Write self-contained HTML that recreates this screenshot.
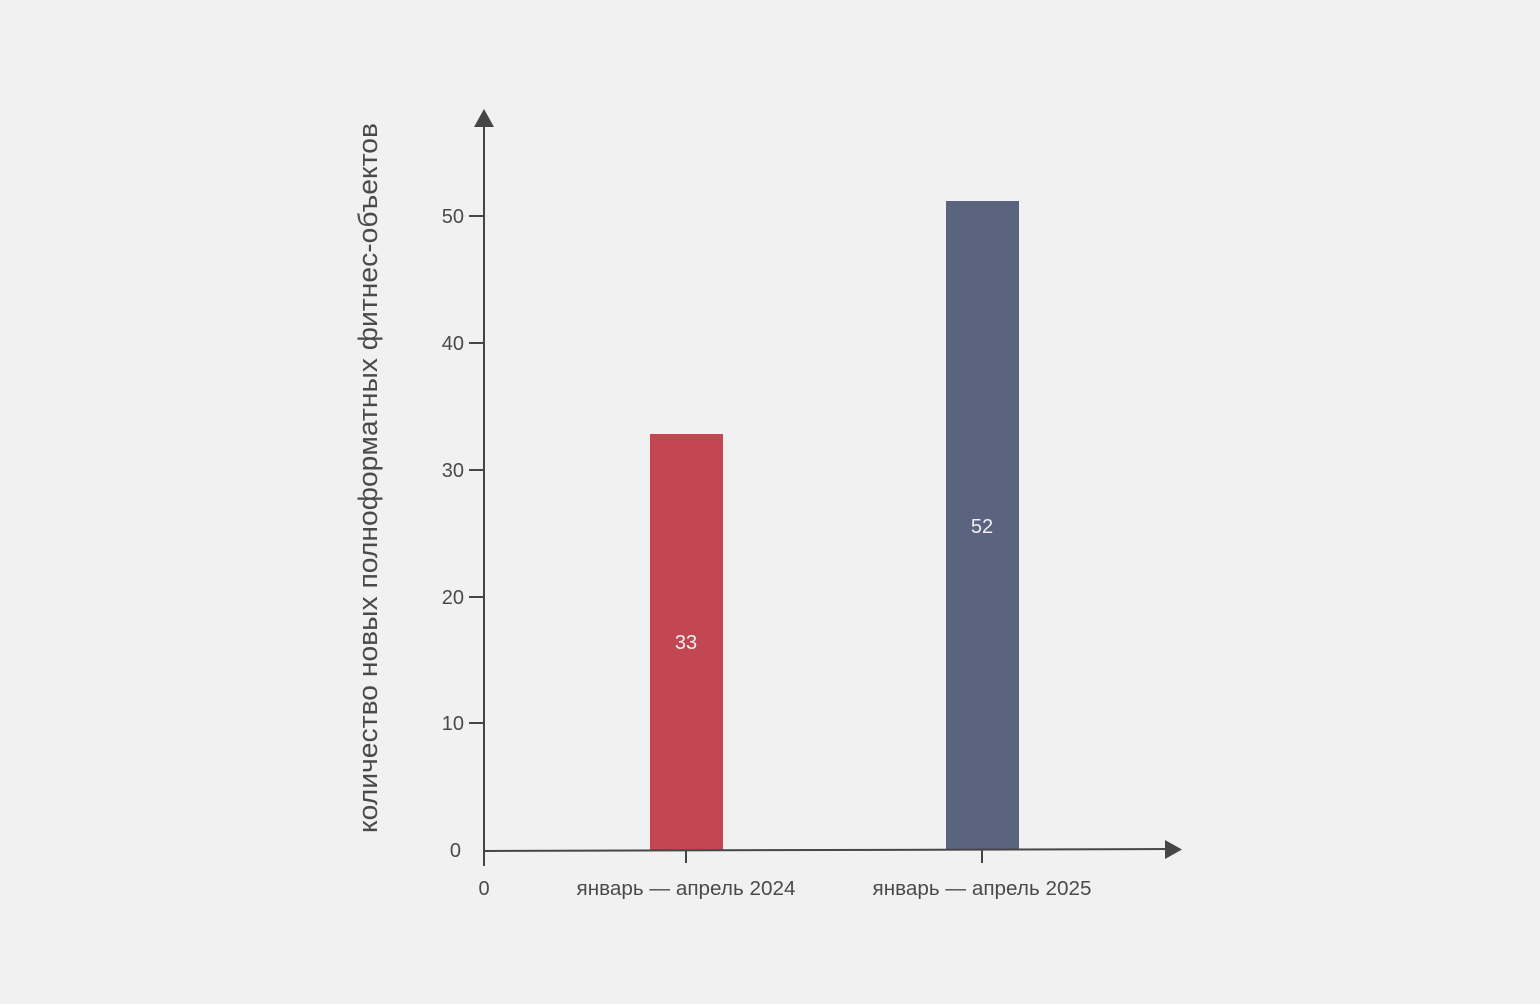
<!DOCTYPE html>
<html><head><meta charset="utf-8"><style>
html,body{margin:0;padding:0;background:#f1f1f1;overflow:hidden;}
svg{display:block;}
svg text{font-family:"Liberation Sans","DejaVu Sans",sans-serif;fill:#4a4a4a;}
</style></head><body>
<svg width="1540" height="1004" viewBox="0 0 1540 1004" xmlns="http://www.w3.org/2000/svg">
<rect width="1540" height="1004" fill="#f1f1f1"/>
<rect x="650" y="434" width="73" height="416" fill="#c24752"/>
<rect x="946" y="201" width="73" height="649" fill="#5a647e"/>
<g stroke="#464646" stroke-width="2">
<line x1="484" y1="125" x2="484" y2="866"/>
<line x1="484" y1="851" x2="1168" y2="849"/>
<line x1="469" y1="216" x2="484" y2="216"/>
<line x1="469" y1="343" x2="484" y2="343"/>
<line x1="469" y1="470" x2="484" y2="470"/>
<line x1="469" y1="597" x2="484" y2="597"/>
<line x1="469" y1="723" x2="484" y2="723"/>
<line x1="686" y1="850" x2="686" y2="863"/>
<line x1="982" y1="850" x2="982" y2="863"/>
</g>
<polygon points="474,127 494,127 484,109" fill="#464646"/>
<polygon points="1165,840 1165,859 1182,849.5" fill="#464646"/>
<g font-size="20" text-anchor="end">
<text x="464" y="223">50</text>
<text x="464" y="350">40</text>
<text x="464" y="477">30</text>
<text x="464" y="604">20</text>
<text x="464" y="730">10</text>
<text x="461" y="857">0</text>
</g>
<g font-size="20" text-anchor="middle">
<text x="484" y="895">0</text>
<text x="686" y="895" textLength="219" lengthAdjust="spacingAndGlyphs">январь — апрель 2024</text>
<text x="982" y="895" textLength="219" lengthAdjust="spacingAndGlyphs">январь — апрель 2025</text>
<text x="686" y="649" style="fill:#f1f1f1">33</text>
<text x="982" y="533" style="fill:#f1f1f1">52</text>
</g>
<text transform="translate(377,478) rotate(-90)" font-size="27" text-anchor="middle" textLength="710" lengthAdjust="spacingAndGlyphs">количество новых полноформатных фитнес-объектов</text>
</svg>
</body></html>
